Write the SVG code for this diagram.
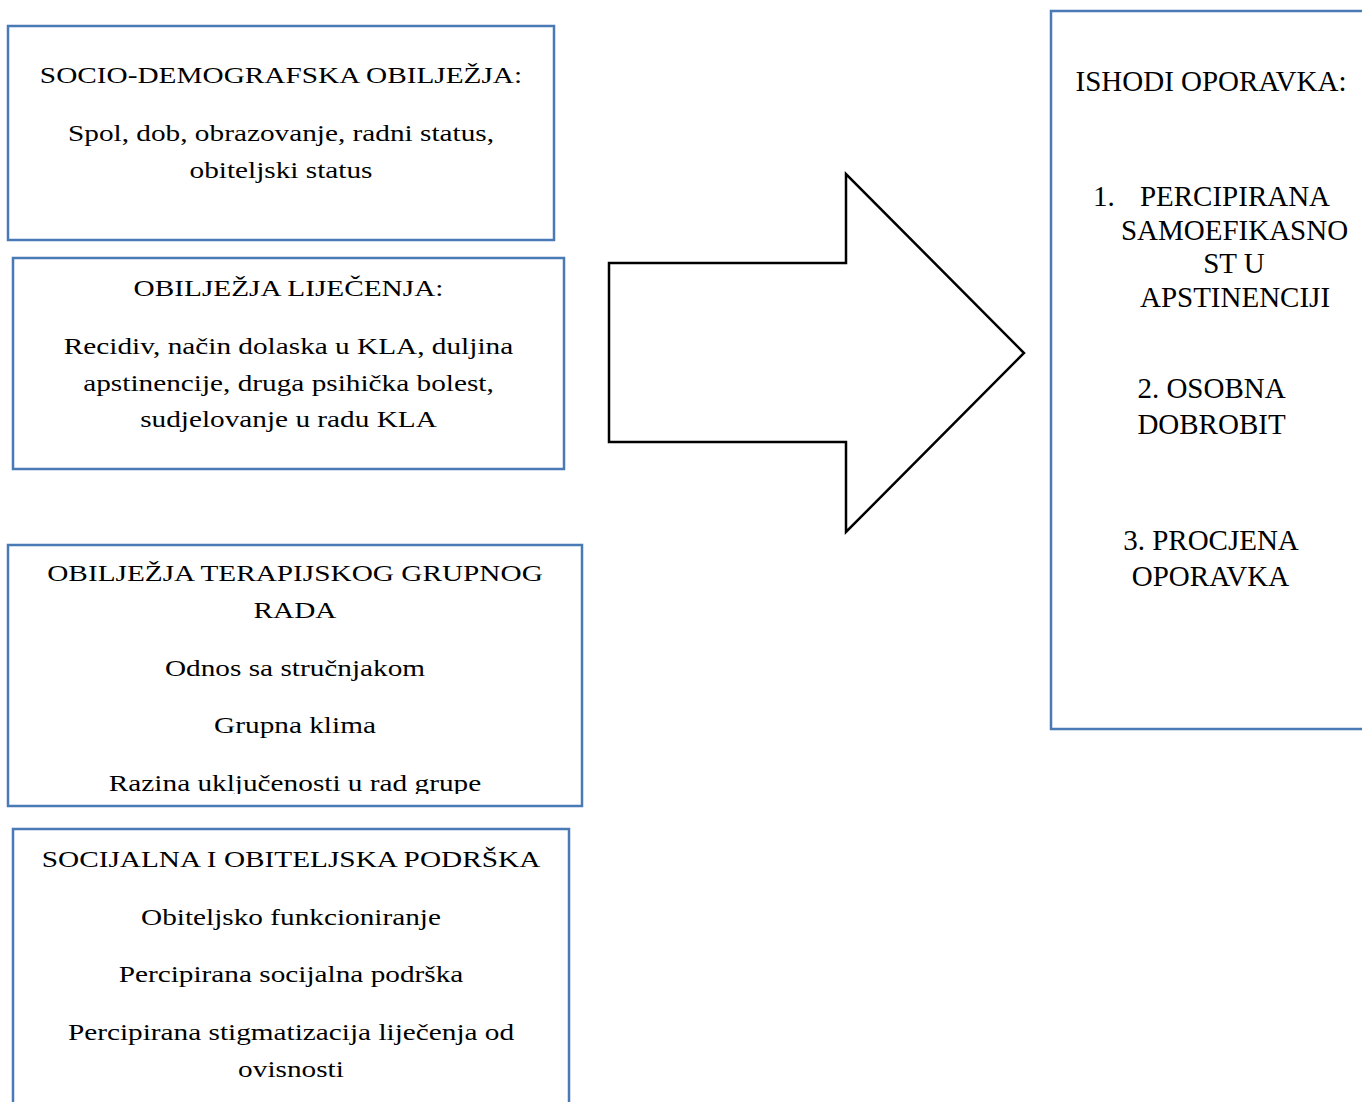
<svg xmlns="http://www.w3.org/2000/svg" width="1362" height="1102" viewBox="0 0 1362 1102">
<style>
.box{fill:#ffffff;stroke:#4A7AB5;stroke-width:2.5}
.arrow{fill:#ffffff;stroke:#000;stroke-width:2.5;stroke-linejoin:miter}
</style>
<defs>
<clipPath id="clip3"><rect x="8" y="545" width="574" height="249"/></clipPath>
</defs>
<rect x="0" y="0" width="1362" height="1102" fill="#ffffff"/>

<g font-family="Liberation Serif, Times New Roman, serif" font-size="24" fill="#000000" text-anchor="middle">
<g id="node-socio">
<rect class="box" x="8" y="26" width="546" height="214"/>
<g transform="translate(281 0) scale(1.22 1)">
<text x="0" y="83">SOCIO-DEMOGRAFSKA OBILJEŽJA:</text>
<text x="0" y="141">Spol, dob, obrazovanje, radni status,</text>
<text x="0" y="178">obiteljski status</text>
</g>
</g>

<g id="node-lijecenje">
<rect class="box" x="13" y="258" width="551" height="211"/>
<g transform="translate(288.5 0) scale(1.22 1)">
<text x="0" y="296">OBILJEŽJA LIJEČENJA:</text>
<text x="0" y="354">Recidiv, način dolaska u KLA, duljina</text>
<text x="0" y="391">apstinencije, druga psihička bolest,</text>
<text x="0" y="427">sudjelovanje u radu KLA</text>
</g>
</g>

<g id="node-grupni-rad">
<rect class="box" x="8" y="545" width="574" height="261"/>
<g clip-path="url(#clip3)">
<g transform="translate(295 0) scale(1.22 1)">
<text x="0" y="581">OBILJEŽJA TERAPIJSKOG GRUPNOG</text>
<text x="0" y="618">RADA</text>
<text x="0" y="676">Odnos sa stručnjakom</text>
<text x="0" y="733">Grupna klima</text>
<text x="0" y="791">Razina uključenosti u rad grupe</text>
</g>
</g>
</g>

<g id="node-podrska">
<rect class="box" x="13" y="829" width="556" height="290"/>
<g transform="translate(291 0) scale(1.22 1)">
<text x="0" y="867">SOCIJALNA I OBITELJSKA PODRŠKA</text>
<text x="0" y="925">Obiteljsko funkcioniranje</text>
<text x="0" y="982">Percipirana socijalna podrška</text>
<text x="0" y="1040">Percipirana stigmatizacija liječenja od</text>
<text x="0" y="1077">ovisnosti</text>
</g>
</g>

<g id="connectors">
<polygon class="arrow" points="609,263 846,263 846,174 1024,353 846,532 846,442 609,442"/>
</g>

<g id="node-ishodi" font-size="29">
<rect class="box" x="1051" y="11" width="330" height="718"/>
<text x="1211" y="91">ISHODI OPORAVKA:</text>
<text x="1093" y="206" text-anchor="start">1.</text>
<text x="1235" y="206">PERCIPIRANA</text>
<text x="1234.5" y="240">SAMOEFIKASNO</text>
<text x="1234" y="273">ST U</text>
<text x="1235" y="307">APSTINENCIJI</text>
<text x="1211.5" y="398">2. OSOBNA</text>
<text x="1211.5" y="434">DOBROBIT</text>
<text x="1211" y="550">3. PROCJENA</text>
<text x="1210.5" y="586">OPORAVKA</text>
</g>
</g>
</svg>
